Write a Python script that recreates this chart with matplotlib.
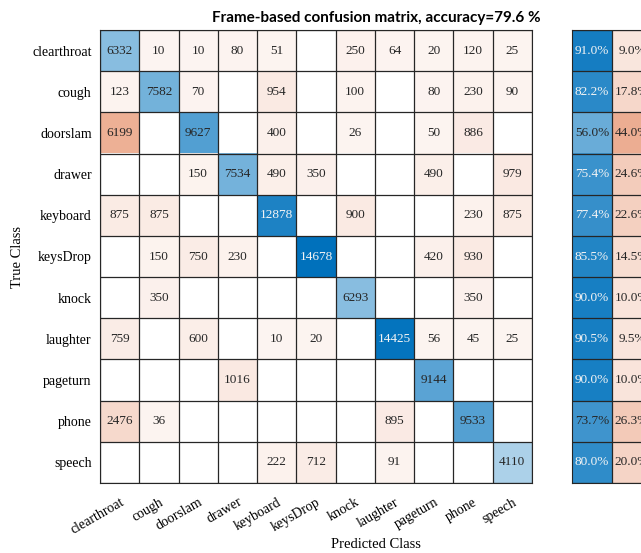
import numpy as np
import matplotlib
matplotlib.use("Agg")
import matplotlib.pyplot as plt

# class names and frame counts (rows = true class, cols = predicted class)
classes = ["clearthroat", "cough", "doorslam", "drawer", "keyboard", "keysDrop",
           "knock", "laughter", "pageturn", "phone", "speech"]

cm = np.array([
    [6332, 10, 10, 80, 51, 0, 250, 64, 20, 120, 25],
    [123, 7582, 70, 0, 954, 0, 100, 0, 80, 230, 90],
    [6199, 0, 9627, 0, 400, 0, 26, 0, 50, 886, 0],
    [0, 0, 150, 7534, 490, 350, 0, 0, 490, 0, 979],
    [875, 875, 0, 0, 12878, 0, 900, 0, 0, 230, 875],
    [0, 150, 750, 230, 0, 14678, 0, 0, 420, 930, 0],
    [0, 350, 0, 0, 0, 0, 6293, 0, 0, 350, 0],
    [759, 0, 600, 0, 10, 20, 0, 14425, 56, 45, 25],
    [0, 0, 0, 1016, 0, 0, 0, 0, 9144, 0, 0],
    [2476, 36, 0, 0, 0, 0, 0, 895, 0, 9533, 0],
    [0, 0, 0, 0, 222, 712, 0, 91, 0, 0, 4110],
])

title_text = "Frame-based confusion matrix, accuracy=79.6 %"

blue = np.array([0.0, 0.447, 0.741])
red = np.array([0.85, 0.325, 0.098])
dark = "#262626"
serif = ["Liberation Serif", "DejaVu Serif"]
tmin = 0.06  # nonzero cells always get a faint tint


def intensity(r):
    return tmin + (1 - tmin) * r if r > 0 else 0.0


def shade(base, t):
    return 1 - t * (1 - base)


def txt_color(t):
    return "#f4f4f4" if t > 0.76 else dark


n = len(classes)
vmax = cm.max()

rgb = np.ones((n, n, 3))
for i in range(n):
    for j in range(n):
        t = intensity(cm[i, j] / vmax)
        rgb[i, j] = shade(blue if i == j else red, t)

fig = plt.figure(figsize=(6.41, 5.53), dpi=100)
ax = fig.add_axes([100 / 641, 1 - 483 / 553, 432 / 641, 453 / 553])
ax.imshow(rgb, aspect="auto", interpolation="nearest",
          extent=(-0.5, n - 0.5, n - 0.5, -0.5))
for k in range(n + 1):
    ax.axhline(k - 0.5, color=dark, lw=0.9)
    ax.axvline(k - 0.5, color=dark, lw=0.9)

for i in range(n):
    for j in range(n):
        if cm[i, j] == 0:
            continue
        t = intensity(cm[i, j] / vmax) if i == j else 0
        ax.text(j, i, str(cm[i, j]), ha="center", va="center", fontsize=9.5,
                family=serif, color=txt_color(t))

ax.set_xticks(range(n))
ax.set_yticks(range(n))
ax.set_xticklabels(classes, rotation=30, ha="right", rotation_mode="anchor",
                   family=serif, fontsize=10)
ax.set_yticklabels(classes, family=serif, fontsize=10)
ax.tick_params(axis="y", length=0, pad=6)
ax.tick_params(axis="x", length=0, pad=9)
ax.set_ylabel("True Class", family=serif, fontsize=10.5, labelpad=6)
for s in ax.spines.values():
    s.set_color(dark)

# row summary (recall / miss rate)
row_tot = cm.sum(axis=1)
correct = np.diag(cm) / row_tot
wrong = 1 - correct

ax2 = fig.add_axes([572 / 641, 1 - 483 / 553, 80 / 641, 453 / 553])
srgb = np.ones((n, 2, 3))
for i in range(n):
    srgb[i, 0] = shade(blue, intensity(correct[i]))
    srgb[i, 1] = shade(red, intensity(wrong[i]))
ax2.imshow(srgb, aspect="auto", interpolation="nearest",
           extent=(-0.5, 1.5, n - 0.5, -0.5))
for k in range(n + 1):
    ax2.axhline(k - 0.5, color=dark, lw=0.9)
ax2.axvline(0.5, color=dark, lw=0.9)
for i in range(n):
    ax2.text(0, i, "%.1f%%" % (100 * correct[i]), ha="center", va="center",
             fontsize=9.5, family=serif, color=txt_color(intensity(correct[i])))
    ax2.text(1, i, "%.1f%%" % (100 * wrong[i]), ha="center", va="center",
             fontsize=9.5, family=serif, color=txt_color(intensity(wrong[i])))
ax2.set_xticks([])
ax2.set_yticks([])
for s in ax2.spines.values():
    s.set_color(dark)

fig.text(376 / 641, 1 - 18 / 553, title_text, ha="center", va="center",
         fontsize=11, fontweight="bold", family=["Lato", "DejaVu Sans"])
fig.text(376 / 641, 1 - 544 / 553, "Predicted Class", ha="center", va="center",
         fontsize=10.5, family=serif)

fig.savefig("out.png", dpi=100)
